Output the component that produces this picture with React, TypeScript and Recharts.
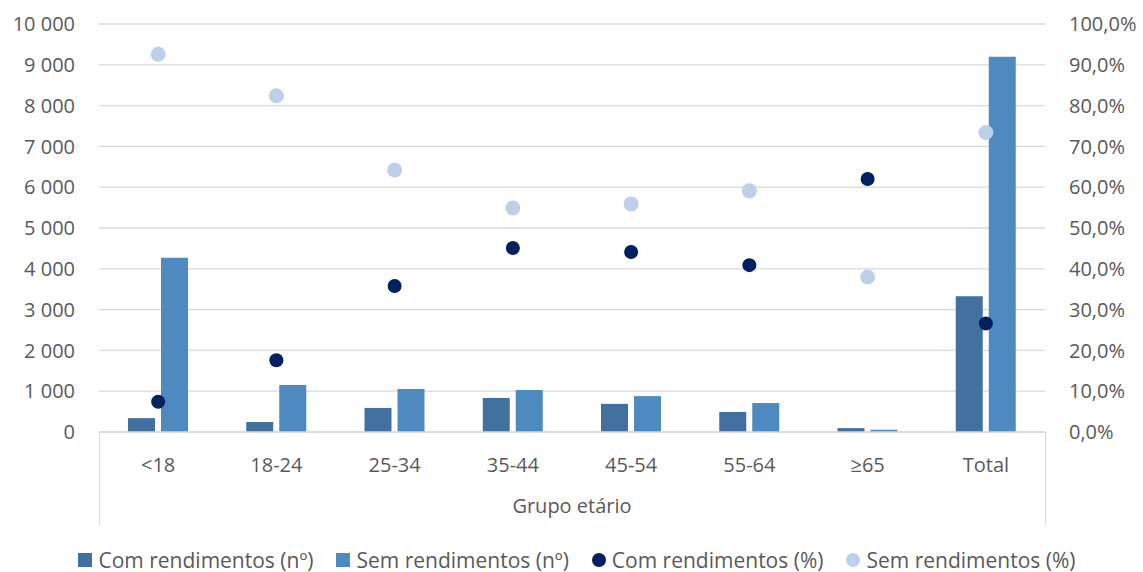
import { ComposedChart, Bar, Scatter, XAxis, YAxis, CartesianGrid, Legend } from "recharts";

const groups = ["<18", "18-24", "25-34", "35-44", "45-54", "55-64", "≥65", "Total"];
const comCount = [340, 245, 590, 835, 690, 490, 95, 3330];
const semCount = [4270, 1150, 1055, 1030, 880, 710, 55, 9200];
const comPct = [7.4, 17.6, 35.8, 45.1, 44.1, 40.9, 62.0, 26.6];
const semPct = [92.6, 82.4, 64.2, 54.9, 55.9, 59.1, 38.0, 73.4];

const countTicks = [0, 1000, 2000, 3000, 4000, 5000, 6000, 7000, 8000, 9000, 10000];
const pctTicks = [0, 10, 20, 30, 40, 50, 60, 70, 80, 90, 100];

const data = groups.map((g, i) => ({
  group: g,
  comCount: comCount[i],
  semCount: semCount[i],
  comPct: comPct[i],
  semPct: semPct[i],
}));

const DARK_BAR = "#43719F";
const LIGHT_BAR = "#4E8AC0";
const NAVY = "#00205F";
const PALE = "#BCD0EA";
const TEXT = "#595959";
const GRID = "#D9D9D9";

const legendItems = [
  { label: "Com rendimentos (nº)", color: DARK_BAR, round: false },
  { label: "Sem rendimentos (nº)", color: LIGHT_BAR, round: false },
  { label: "Com rendimentos (%)", color: NAVY, round: true },
  { label: "Sem rendimentos (%)", color: PALE, round: true },
];

const fmtCount = (v: number) => String(v).replace(/\B(?=(\d{3})+(?!\d))/g, " ");
const fmtPct = (v: number) => v.toFixed(1).replace(".", ",") + "%";

const Dot = (r: number, fill: string) => (props: any) =>
  <circle cx={props.cx} cy={props.cy} r={r} fill={fill} />;

const LegendContent = () => (
  <div
    style={{
      height: 47,
      boxSizing: "border-box",
      paddingTop: 23,
      display: "flex",
      justifyContent: "center",
      alignItems: "center",
      gap: 23,
      fontSize: 21,
      color: TEXT,
    }}
  >
    {legendItems.map((it) => (
      <div key={it.label} style={{ display: "flex", alignItems: "center", height: 24 }}>
        <span
          style={{
            width: 14,
            height: 14,
            background: it.color,
            borderRadius: it.round ? "50%" : 0,
            marginRight: 6,
            display: "inline-block",
          }}
        />
        <span>{it.label}</span>
      </div>
    ))}
  </div>
);

export default function App() {
  return (
    <div
      style={{
        position: "absolute",
        left: 0,
        top: 0,
        width: 1143,
        height: 572,
        background: "#fff",
        fontFamily: "'Open Sans', sans-serif",
      }}
    >
      <ComposedChart
        width={1143}
        height={572}
        data={data}
        margin={{ top: 24, right: 8, left: 19, bottom: 0 }}
        barSize={27}
        barGap={6}
      >
        <CartesianGrid yAxisId="left" vertical={false} stroke={GRID} strokeWidth={1.3} />
        <XAxis
          dataKey="group"
          height={93}
          tickLine={false}
          tickSize={0}
          tickMargin={26}
          axisLine={{ stroke: GRID, strokeWidth: 1.3 }}
          tick={{ fontSize: 20, fill: TEXT }}
          label={{ value: "Grupo etário", position: "insideBottom", offset: 12, fontSize: 20, fill: TEXT }}
        />
        <YAxis
          yAxisId="left"
          width={80}
          domain={[0, 10000]}
          ticks={countTicks}
          tickFormatter={fmtCount}
          axisLine={false}
          tickLine={false}
          tickMargin={18}
          tick={{ fontSize: 20, fill: TEXT }}
        />
        <YAxis
          yAxisId="right"
          orientation="right"
          width={90}
          domain={[0, 100]}
          ticks={pctTicks}
          tickFormatter={fmtPct}
          axisLine={false}
          tickLine={false}
          tickMargin={18}
          tick={{ fontSize: 20, fill: TEXT, textAnchor: "start" }}
        />
        <Legend verticalAlign="bottom" content={<LegendContent />} />
        <Bar yAxisId="left" dataKey="comCount" name="Com rendimentos (nº)" fill={DARK_BAR} isAnimationActive={false} />
        <Bar yAxisId="left" dataKey="semCount" name="Sem rendimentos (nº)" fill={LIGHT_BAR} isAnimationActive={false} />
        <Scatter yAxisId="right" dataKey="comPct" name="Com rendimentos (%)" shape={Dot(7, NAVY)} isAnimationActive={false} />
        <Scatter yAxisId="right" dataKey="semPct" name="Sem rendimentos (%)" shape={Dot(7.5, PALE)} isAnimationActive={false} />
      </ComposedChart>
      {/* borders of the category axis box */}
      <div style={{ position: "absolute", left: 98.5, top: 432, width: 1.3, height: 93, background: GRID }} />
      <div style={{ position: "absolute", left: 1044.5, top: 432, width: 1.3, height: 93, background: GRID }} />
    </div>
  );
}
